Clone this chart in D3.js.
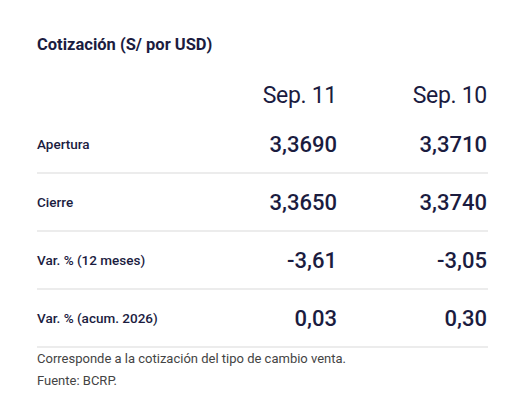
<!DOCTYPE html><html><head><meta charset="utf-8">
<script src="https://cdn.jsdelivr.net/npm/d3@7"></script>
<style>body{margin:0;background:#fff}</style></head><body>
<svg id="c" width="522" height="406"></svg>
<script>
const title="Cotización (S/ por USD)";
const columns=["Sep. 11","Sep. 10"];
const rowLabels=["Apertura","Cierre","Var. % (12 meses)","Var. % (acum. 2026)"];
const colSep11=["3,3690","3,3650","-3,61","0,03"];
const colSep10=["3,3710","3,3740","-3,05","0,30"];
const notes=["Corresponde a la cotización del tipo de cambio venta.","Fuente: BCRP."];
const svg=d3.select("#c"), ink="#1b1c3f", F="Roboto, sans-serif";
svg.append("text").attr("x",37).attr("y",50).attr("font-family",F).attr("font-weight",700).attr("font-size",16.5).attr("fill",ink).text(title);
const x=d3.scalePoint().domain(columns).range([337,487]);
const y=d3.scaleBand().domain(rowLabels).range([115,347]);
columns.forEach(c=>svg.append("text").attr("x",x(c)).attr("y",103).attr("text-anchor","end").attr("font-family",F).attr("font-size",23).attr("letter-spacing",-0.3).attr("fill",ink).text(c));
const vals=[colSep11,colSep10];
rowLabels.forEach((r,i)=>{
  const cy=y(r)+y.bandwidth()/2;
  svg.append("text").attr("x",37).attr("y",cy+5).attr("font-family",F).attr("font-weight",500).attr("font-size",13.5).attr("fill",ink).text(r);
  columns.forEach((c,j)=>svg.append("text").attr("x",x(c)).attr("y",cy+8).attr("text-anchor","end").attr("font-family",F).attr("font-weight",500).attr("font-size",22).attr("fill",ink).text(vals[j][i]));
  svg.append("line").attr("x1",37).attr("x2",488).attr("y1",y(r)+y.bandwidth()).attr("y2",y(r)+y.bandwidth()).attr("stroke","#d9d9d9");
});
notes.forEach((n,i)=>svg.append("text").attr("x",37).attr("y",363+i*22).attr("font-family",F).attr("font-size",13).attr("fill","#444").text(n));
</script></body></html>
